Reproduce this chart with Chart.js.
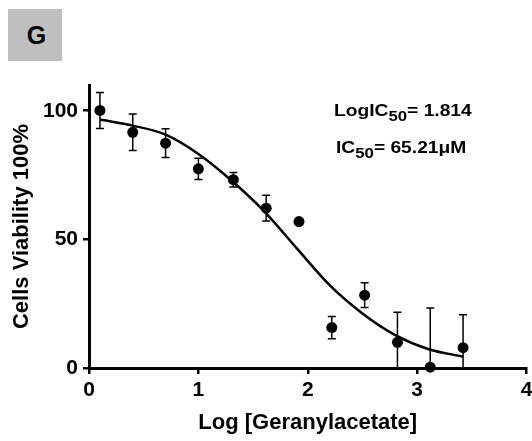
<html>
<head>
<meta charset="utf-8">
<script src="https://cdn.jsdelivr.net/npm/chart.js@4.4.1/dist/chart.umd.min.js"></script>
<style>
body { margin: 0; background: #fff; }
#wrap { position: relative; width: 532px; height: 441px; }
#panel {
  position: absolute; left: 8px; top: 9px; width: 54px; height: 52px;
  background: #bfbfbf; color: #000; text-align: center; box-sizing: border-box; padding-left: 3px;
  font: bold 25px "Liberation Sans", Arial, sans-serif; line-height: 52px;
}
.note {
  position: absolute; white-space: nowrap; color: #000;
  font: bold 16px "Liberation Sans", Arial, sans-serif; line-height: 16px;
  transform: scaleX(1.2); transform-origin: 0 0;
}
.note .sub { font-size: 14px; position: relative; top: 5px; }
</style>
</head>
<body>
<div id="wrap">
  <canvas id="chart" width="532" height="441"></canvas>
  <div id="panel">G</div>
  <div class="note" id="note1" style="left:334px; top:103px"></div>
  <div class="note" id="note2" style="left:336px; top:140px"></div>
</div>
<script>
// measured points (mean +/- SD)
var doseLog   = [0.1, 0.4, 0.7, 1.0, 1.32, 1.62, 1.92, 2.22, 2.52, 2.82, 3.12, 3.42];
var viability = [100.1, 91.6, 87.4, 77.4, 73.2, 62.1, 56.9, 15.7, 28.3, 10.0, 0.3, 7.9];
var sd        = [7.0, 7.1, 5.6, 4.1, 2.8, 5.0, 0, 4.3, 4.8, 11.7, 23.0, 12.8];

// fitted curve
var fitX = [0.1, 0.4, 0.7, 1.0, 1.3, 1.6, 1.9, 2.2, 2.5, 2.8, 3.1, 3.42];
var fitY = [96.6, 94.2, 90.7, 83.2, 73.0, 61.0, 46.5, 32.2, 21.2, 12.8, 7.4, 4.4];

var xTicks = [0, 1, 2, 3, 4];
var yTicks = [0, 50, 100];

var logIC50 = "1.814";
var ic50 = "65.21";

document.getElementById('note1').innerHTML = 'LogIC<span class="sub">50</span>= ' + logIC50;
document.getElementById('note2').innerHTML = 'IC<span class="sub">50</span>= ' + ic50 + '\u03bcM';

var FONT = '"Liberation Sans", Arial, sans-serif';

function toPoints(xs, ys) {
  var out = [];
  for (var i = 0; i < xs.length; i++) out.push({x: xs[i], y: ys[i]});
  return out;
}

var errorBars = {
  id: 'errorBars',
  afterDatasetsDraw: function(chart) {
    var ctx = chart.ctx, xs = chart.scales.x, ys = chart.scales.y, a = chart.chartArea;
    ctx.save();
    ctx.beginPath();
    ctx.rect(a.left, a.top, a.right - a.left, a.bottom - a.top);
    ctx.clip();
    ctx.strokeStyle = '#000';
    ctx.lineWidth = 1.5;
    for (var i = 0; i < doseLog.length; i++) {
      if (!sd[i]) continue;
      var px = xs.getPixelForValue(doseLog[i]);
      var top = ys.getPixelForValue(viability[i] + sd[i]);
      var bot = ys.getPixelForValue(viability[i] - sd[i]);
      ctx.beginPath();
      ctx.moveTo(px, top); ctx.lineTo(px, bot);
      ctx.moveTo(px - 4, top); ctx.lineTo(px + 4, top);
      ctx.moveTo(px - 4, bot); ctx.lineTo(px + 4, bot);
      ctx.stroke();
    }
    ctx.restore();
  }
};

var ctx = document.getElementById('chart').getContext('2d');
var chart = new Chart(ctx, {
  type: 'scatter',
  data: {
    datasets: [{
      label: 'fit',
      data: toPoints(fitX, fitY),
      showLine: true,
      borderColor: '#000',
      borderWidth: 2.5,
      pointRadius: 0,
      cubicInterpolationMode: 'monotone',
      fill: false,
      clip: false
    }, {
      label: 'viability',
      data: toPoints(doseLog, viability),
      showLine: false,
      pointRadius: 5.5,
      pointBackgroundColor: '#000',
      pointBorderColor: '#000',
      pointBorderWidth: 0,
      clip: false
    }]
  },
  options: {
    responsive: false,
    animation: false,
    layout: { padding: { left: 0, right: 5, top: 85, bottom: 0 } },
    plugins: { legend: { display: false }, tooltip: { enabled: false } },
    scales: {
      x: {
        type: 'linear', min: 0, max: 4,
        afterBuildTicks: function(s) { s.ticks = xTicks.map(function(v) { return {value: v}; }); },
        afterFit: function(s) { s.height = 73; s.paddingLeft = 0; s.paddingRight = 0; },
        ticks: { padding: 4, color: '#000', font: { family: FONT, size: 21, weight: 'bold' } },
        grid: { drawOnChartArea: false, tickLength: 6, lineWidth: 2.5, color: '#000' },
        border: { color: '#000', width: 3 },
        title: { display: true, text: 'Log [Geranylacetate]', color: '#000',
                 font: { family: FONT, size: 22, weight: 'bold' }, padding: { top: 0, bottom: 5 } }
      },
      y: {
        type: 'linear', min: 0, max: 110,
        afterBuildTicks: function(s) { s.ticks = yTicks.map(function(v) { return {value: v}; }); },
        afterFit: function(s) { s.width = 89; },
        ticks: { padding: 5, color: '#000', font: { family: FONT, size: 21, weight: 'bold' } },
        grid: { drawOnChartArea: false, tickLength: 6, lineWidth: 2.5, color: '#000' },
        border: { color: '#000', width: 3 },
        title: { display: true, text: 'Cells Viability 100%', color: '#000',
                 font: { family: FONT, size: 22, weight: 'bold' }, padding: { top: 9, bottom: 0 } }
      }
    }
  },
  plugins: [errorBars]
});
</script>
</body>
</html>
